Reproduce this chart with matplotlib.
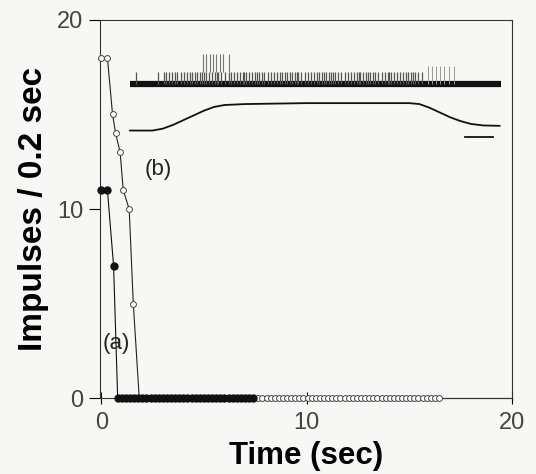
import numpy as np
import matplotlib.pyplot as plt

plt.rcParams["font.family"] = ["Liberation Sans", "DejaVu Sans"]

# firing rate, impulses per 0.2 s bin
a_time = [0.0, 0.3, 0.6, 0.8]
a_rate = [11, 11, 7, 0]
a_silent_until = 7.5          # (a) stays at zero up to here

b_time = [0.0, 0.3, 0.55, 0.7, 0.92, 1.07, 1.36, 1.56, 1.85]
b_rate = [18, 18, 15, 14, 13, 11, 10, 5, 0]
b_silent_until = 16.6         # (b) stays at zero up to here
bin_width = 0.2

# stimulus monitor trace (drawn in data units above the rates)
stim_t = [1.4, 2.5, 3.0, 3.5, 4.0, 4.5, 5.0, 5.5, 6.0, 7.0, 10.0, 15.0,
          15.5, 16.0, 16.5, 17.0, 17.5, 18.0, 18.6, 19.4]
stim_y = [14.15, 14.15, 14.25, 14.45, 14.7, 14.95, 15.2, 15.4, 15.5, 15.55,
          15.6, 15.6, 15.55, 15.35, 15.1, 14.85, 14.65, 14.5, 14.42, 14.4]
marker_t = [17.7, 19.1]
marker_y = 13.8

# nerve recording band and its spikes
band_t = [1.4, 19.45]
band_y = 16.6
spikes_short = [1.7, 2.75, 3.05, 3.3, 3.45, 3.7, 3.9, 4.05, 4.3, 4.4, 4.65, 4.8,
                5.1, 5.25, 5.4, 5.7, 5.85, 6.05, 6.3, 6.45, 6.6, 6.9, 7.05, 7.2,
                7.5, 7.6, 7.85, 8.1, 8.25, 8.4, 8.7, 8.8, 9.05, 9.3, 9.45, 9.6,
                9.9, 10.05, 10.2, 10.5, 10.6, 10.85, 11.1, 11.3, 11.4, 11.7,
                11.85, 12.0, 12.3, 12.45, 12.6, 12.9, 13.0, 13.25, 13.5, 13.65,
                13.8, 14.1, 14.25, 14.4, 14.7, 14.85, 15.1, 15.3, 15.45, 15.6,
                3.15, 3.6, 4.2, 4.55, 5.0, 5.55, 6.2, 6.75, 7.35, 7.95, 8.55,
                9.2, 9.75, 10.35, 10.95, 11.55, 12.15, 12.75, 13.35, 13.95,
                14.55, 15.2, 4.9, 5.65, 6.95, 7.7, 8.95, 9.55, 10.75, 11.2,
                12.55, 13.1, 14.0, 14.95]
spikes_tall = [4.95, 5.1, 5.3, 5.45, 5.6, 5.8, 5.95, 6.2]
spikes_late = [15.9, 16.1, 16.3, 16.5, 16.7, 16.95, 17.2]

BG = "#f7f7f5"
INK = "#222222"

fig = plt.figure(figsize=(5.36, 4.74), dpi=100, facecolor=BG)
ax = fig.add_axes([0.187, 0.160, 0.768, 0.798], facecolor=BG)

# rate histograms
a_zero_t = np.round(np.arange(a_time[-1] + bin_width, a_silent_until + 1e-6, bin_width), 2)
b_zero_t = np.round(np.arange(b_time[-1] + bin_width, b_silent_until + 1e-6, bin_width), 2)

ax.plot(b_time + list(b_zero_t), b_rate + [0] * len(b_zero_t), color=INK,
        lw=0.8, marker="o", ms=4.2, mfc="white", mec="#444444", mew=0.7,
        clip_on=False, zorder=3)
ax.plot(a_time + list(a_zero_t), a_rate + [0] * len(a_zero_t), color="#111111",
        lw=0.8, marker="o", ms=5.0, mfc="#111111", mec="#111111",
        clip_on=False, zorder=4)
ax.plot([b_zero_t[-1], 20], [0, 0], color=INK, lw=0.8, clip_on=False)

# recording traces
ax.plot(band_t, [band_y, band_y], color="#111111", lw=4.5, solid_capstyle="butt")
ax.vlines(spikes_short, band_y, band_y + 0.65, color="#555555", lw=0.9)
ax.vlines(spikes_tall, band_y + 0.65, band_y + 1.6, color="#777777", lw=0.8)
ax.vlines(spikes_late, band_y, band_y + 0.95, color="#999999", lw=0.7)
ax.plot(stim_t, stim_y, color="#111111", lw=1.3)
ax.plot(marker_t, [marker_y, marker_y], color="#111111", lw=1.3)

ax.text(0.05, 2.9, "(a)", fontsize=16, ha="left", va="center", color=INK,
        bbox=dict(facecolor=BG, edgecolor="none", pad=0.5))
ax.text(2.1, 12.1, "(b)", fontsize=16, ha="left", va="center", color=INK)

ax.set_xlim(-0.05, 20)
ax.set_ylim(0, 20)
ax.set_xticks([0, 10, 20])
ax.set_yticks([0, 10, 20])
ax.tick_params(axis="x", direction="inout", length=8, width=0.8, labelsize=17,
               labelcolor="#444444", pad=6)
ax.tick_params(axis="y", direction="out", length=8, width=0.8, labelsize=17,
               labelcolor="#444444", pad=4)
for s in ax.spines.values():
    s.set_linewidth(0.8)
    s.set_color("#333333")

ax.set_xlabel("Time (sec)", fontsize=22.5, fontweight="bold", labelpad=5)
ax.set_ylabel("Impulses / 0.2 sec", fontsize=24, fontweight="bold", labelpad=6)

fig.savefig("out.png", dpi=100, facecolor=BG)
